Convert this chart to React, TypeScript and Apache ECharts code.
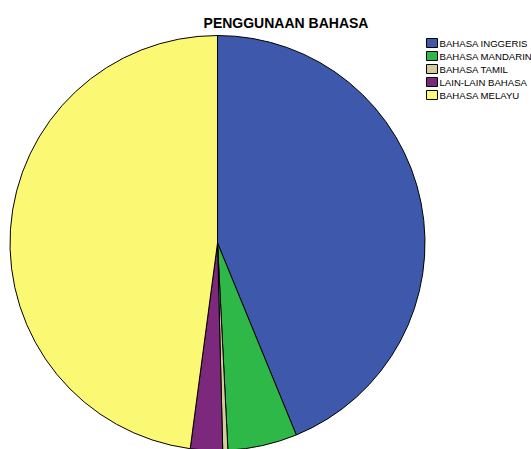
import React, { useEffect, useRef } from "react";
import * as echarts from "echarts";

const categories = ["BAHASA INGGERIS", "BAHASA MANDARIN", "BAHASA TAMIL", "LAIN-LAIN BAHASA", "BAHASA MELAYU"];
const values = [43.8, 5.4, 0.4, 2.5, 47.9];
const colors = ["#3E58AC", "#2EB848", "#D3CE97", "#7C287D", "#FBF873"];
const titleText = "PENGGUNAAN BAHASA";

export default function App() {
  const ref = useRef<HTMLDivElement>(null);
  useEffect(() => {
    document.body.style.margin = "0";
    const chart = echarts.init(ref.current!, null, { renderer: "svg" });
    const font = "'Liberation Sans', Arial, sans-serif";
    chart.setOption({
      animation: false,
      backgroundColor: "#ffffff",
      title: {
        text: titleText,
        left: 286,
        textAlign: "center",
        top: 16,
        padding: 0,
        textStyle: { fontFamily: font, fontSize: 14, fontWeight: "bold", color: "#000" },
      },
      legend: {
        orient: "vertical",
        left: 426,
        top: 38,
        padding: 0,
        itemWidth: 11,
        itemHeight: 9,
        itemGap: 3,
        icon: "rect",
        selectedMode: false,
        itemStyle: { borderColor: "#000", borderWidth: 1 },
        textStyle: { fontFamily: font, fontSize: 9.6, color: "#000", lineHeight: 9, padding: [0, 0, 0, -3] },
        data: categories,
      },
      series: [
        {
          type: "pie",
          center: [217.5, 243],
          radius: 207.5,
          startAngle: 90,
          clockwise: true,
          label: { show: false },
          labelLine: { show: false },
          emphasis: { disabled: true },
          itemStyle: { borderColor: "#000", borderWidth: 1 },
          data: categories.map((c, i) => ({ name: c, value: values[i], itemStyle: { color: colors[i] } })),
        },
      ],
    });
    return () => chart.dispose();
  }, []);
  return <div ref={ref} style={{ width: 531, height: 449 }} />;
}
